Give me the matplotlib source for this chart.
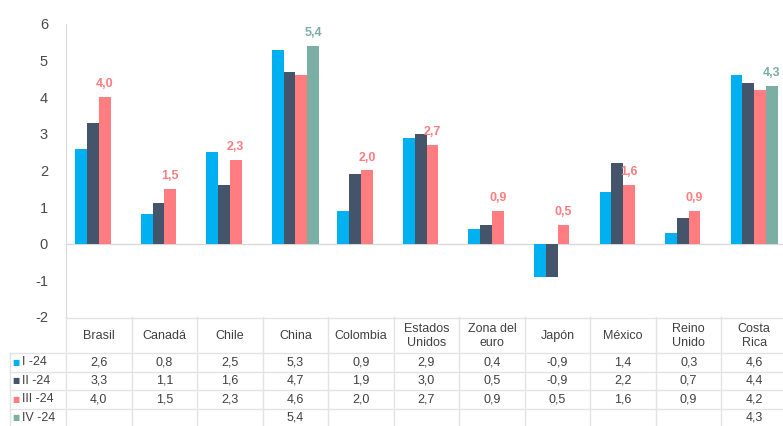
import numpy as np
import matplotlib.pyplot as plt
import matplotlib.transforms as mtransforms

plt.rcParams['font.family'] = ['Liberation Sans', 'DejaVu Sans']

# data
paises = ['Brasil', 'Canadá', 'Chile', 'China', 'Colombia', 'Estados\nUnidos',
          'Zona del\neuro', 'Japón', 'México', 'Reino\nUnido', 'Costa\nRica']
series = ['I -24', 'II -24', 'III -24', 'IV -24']
t1 = [2.6, 0.8, 2.5, 5.3, 0.9, 2.9, 0.4, -0.9, 1.4, 0.3, 4.6]
t2 = [3.3, 1.1, 1.6, 4.7, 1.9, 3.0, 0.5, -0.9, 2.2, 0.7, 4.4]
t3 = [4.0, 1.5, 2.3, 4.6, 2.0, 2.7, 0.9, 0.5, 1.6, 0.9, 4.2]
t4 = [np.nan, np.nan, np.nan, 5.4, np.nan, np.nan, np.nan, np.nan, np.nan, np.nan, 4.3]
yticks = [-2, -1, 0, 1, 2, 3, 4, 5, 6]

colores = ['#00B0F0', '#44546A', '#FF7C80', '#7BAFA4']
valores = [t1, t2, t3, t4]

W, H = 783, 426
fig = plt.figure(figsize=(W / 100, H / 100), dpi=100)
ax = fig.add_axes([66 / W, 1 - 317 / H, (787 - 66) / W, (317 - 24) / H])

x = np.arange(len(paises))
bw = 0.18
for i, (vals, col) in enumerate(zip(valores, colores)):
    v = np.array(vals, dtype=float)
    ax.bar(x + (i - 1.5) * bw, v, bw, color=col, zorder=2)

# etiquetas del ultimo dato disponible
for j in range(len(paises)):
    if not np.isnan(t4[j]):
        val, k = t4[j], 3
    else:
        val, k = t3[j], 2
    ax.annotate(f'{val:.1f}'.replace('.', ','), (x[j] + (k - 1.5) * bw, max(val, 0)),
                xytext=(0, 5), textcoords='offset points', ha='center', va='bottom',
                color=colores[k], fontsize=9, fontweight='bold', clip_on=False)

ax.set_xlim(-0.5, len(paises) - 0.5)
ax.set_ylim(-2, 6)
ax.set_yticks(yticks)
ax.set_yticklabels([str(t) for t in yticks])
ax.tick_params(axis='y', length=0, pad=13, labelsize=10.5, labelcolor='#4A4A4A')
ax.set_xticks([])
for s in ['top', 'right', 'bottom']:
    ax.spines[s].set_visible(False)
ax.spines['left'].set_color('#D9D9D9')
ax.axhline(0, color='#D9D9D9', lw=1, zorder=1)

# tabla de datos debajo
tr = mtransforms.blended_transform_factory(ax.transData, fig.transFigure)
fy = lambda py: 1 - py / H
fx = lambda px: ax.transData.inverted().transform((px, 0))[0]
lc = '#E3E3E3'
x_left = fx(10)
x_right = len(paises) - 0.5
filas = [353, 371.5, 390, 408.5, 427]

ax.plot([-0.5, x_right], [fy(317.5)] * 2, color=lc, lw=1, transform=tr, clip_on=False)
for py in filas:
    ax.plot([x_left, x_right], [fy(py)] * 2, color=lc, lw=1, transform=tr, clip_on=False)
for k in range(len(paises) + 1):
    ax.plot([k - 0.5] * 2, [fy(317), fy(430)], color=lc, lw=1, transform=tr, clip_on=False)
ax.plot([x_left] * 2, [fy(353), fy(430)], color=lc, lw=1, transform=tr, clip_on=False)

for j, p in enumerate(paises):
    ax.text(x[j], fy(336), p, transform=tr, ha='center', va='center',
            fontsize=9, color='#404040', linespacing=1.25)

for i, (vals, col) in enumerate(zip(valores, colores)):
    yc = fy((filas[i] + filas[i + 1]) / 2)
    ax.text(fx(16), yc, '■', transform=tr, ha='center', va='center',
            fontsize=5.5, color=col, family='DejaVu Sans')
    ax.text(fx(22), yc, series[i], transform=tr, ha='left', va='center',
            fontsize=9, color='#404040')
    for j, v in enumerate(vals):
        if not np.isnan(v):
            ax.text(x[j], yc, f'{v:.1f}'.replace('.', ','), transform=tr,
                    ha='center', va='center', fontsize=9, color='#404040')

fig.savefig('out.png', dpi=100)
